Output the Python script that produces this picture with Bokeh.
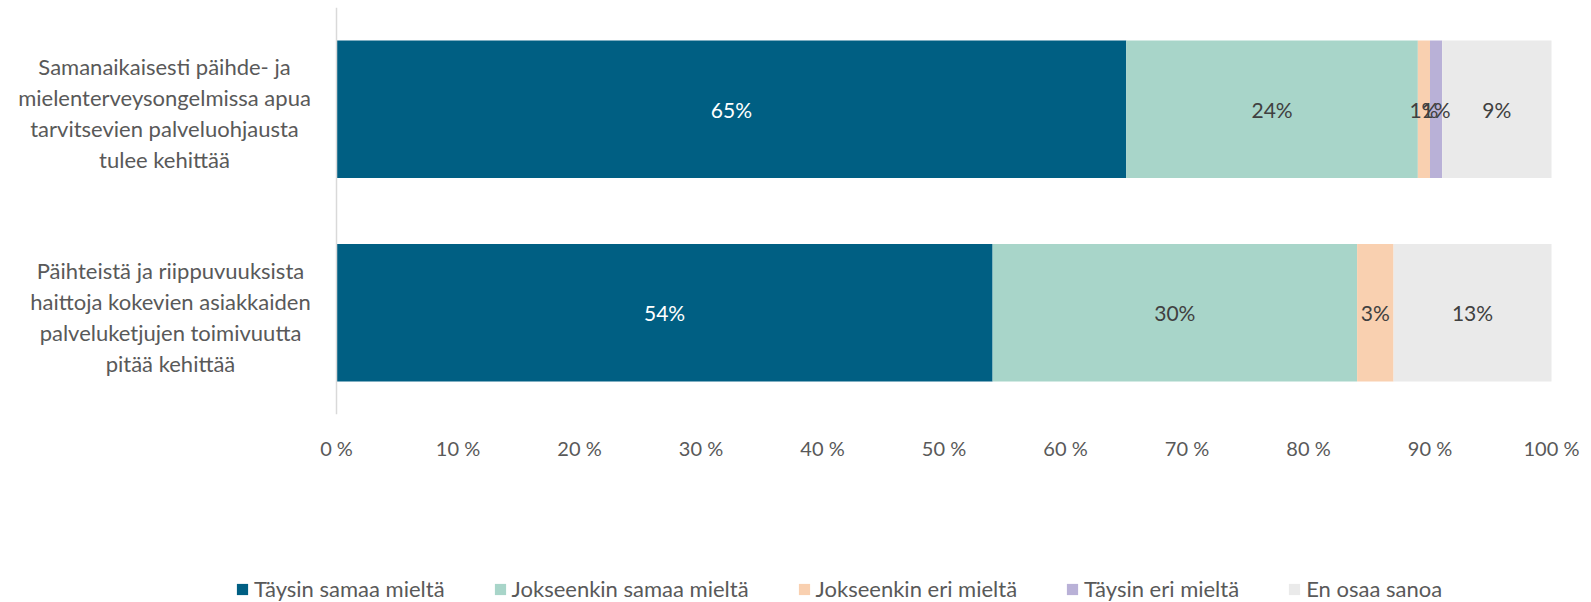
from bokeh.plotting import figure
from bokeh.layouts import column
from bokeh.models import (ColumnDataSource, FactorRange, Range1d, FixedTicker,
                          LabelSet, Legend, LegendItem, Span)
from bokeh.core.properties import value
from bokeh.embed import file_html
from bokeh.resources import INLINE

# ---------------- data ----------------
categories = [
    "Samanaikaisesti päihde- ja\nmielenterveysongelmissa apua\ntarvitsevien palveluohjausta\ntulee kehittää",
    "Päihteistä ja riippuvuuksista\nhaittoja kokevien asiakkaiden\npalveluketjujen toimivuutta\npitää kehittää",
]
series_names = ["Täysin samaa mieltä", "Jokseenkin samaa mieltä",
                "Jokseenkin eri mieltä", "Täysin eri mieltä", "En osaa sanoa"]
taysin_samaa = [65, 54]
jokseenkin_samaa = [24, 30]
jokseenkin_eri = [1, 3]
taysin_eri = [1, 0]
en_osaa = [9, 13]
tick_values = [0, 10, 20, 30, 40, 50, 60, 70, 80, 90, 100]
tick_labels = ["0 %", "10 %", "20 %", "30 %", "40 %", "50 %",
               "60 %", "70 %", "80 %", "90 %", "100 %"]

# ---------------- style / layout ----------------
colors = ["#005F83", "#A8D5C9", "#F9D0B0", "#B9B1D7", "#EAEAEA"]
label_colors = ["#FFFFFF", "#404040", "#404040", "#404040", "#404040"]
FONT = "Lato"
W = 1591
H1, H2 = 470, 132
TOP, BOTTOM = 7, 56
PLOT_X0, PLOT_X1 = 336, 1551          # pixel position of 0 % and 100 %
px_per_unit = (PLOT_X1 - PLOT_X0) / 100.0
x_start = -PLOT_X0 / px_per_unit
x_end = 100 + (W - PLOT_X1) / px_per_unit
cat_label_center_offset = [-172, -166]  # px from the 0 % line, per category
cat_line_step = 31
cat_block_shift = -4

series_values = [taysin_samaa, jokseenkin_samaa, jokseenkin_eri, taysin_eri, en_osaa]
keys = ["s0", "s1", "s2", "s3", "s4"]
data = {"cat": categories}
for k, v in zip(keys, series_values):
    data[k] = v
src = ColumnDataSource(data)

p = figure(width=W, height=H1, output_backend="svg", toolbar_location=None,
           y_range=FactorRange(factors=list(reversed(categories)), range_padding=0),
           x_range=Range1d(x_start, x_end),
           min_border_left=0, min_border_right=0,
           min_border_top=TOP, min_border_bottom=BOTTOM)
p.outline_line_color = None
p.grid.visible = False
p.border_fill_color = "white"

renderers = p.hbar_stack(keys, y="cat", height=0.675, color=colors,
                         line_width=0, source=src)

# x axis
p.xaxis.ticker = FixedTicker(ticks=tick_values)
p.xaxis.major_label_overrides = {v: t for v, t in zip(tick_values, tick_labels)}
p.xaxis.axis_line_color = None
p.xaxis.major_tick_line_color = None
p.xaxis.major_tick_out = 0
p.xaxis.minor_tick_line_color = None
p.xaxis.major_label_standoff = 21
p.xaxis.major_label_text_font = FONT
p.xaxis.major_label_text_font_size = "20px"
p.xaxis.major_label_text_color = "#595959"

# y axis: only the vertical line at 0 %
p.yaxis.visible = False
p.add_layout(Span(location=0, dimension="height", line_color="#D9D9D9",
                  line_width=1.5))

# category labels: one text per line, lines centred inside each block
cx, cy, ct, cxo, cyo = [], [], [], [], []
for ci, cat in enumerate(categories):
    lines = cat.split("\n")
    n = len(lines)
    for li, line in enumerate(lines):
        cx.append(0)
        cy.append(cat)
        ct.append(line)
        cxo.append(cat_label_center_offset[ci])
        cyo.append(((n - 1) / 2 - li) * cat_line_step + cat_block_shift)
cat_src = ColumnDataSource({"x": cx, "y": cy, "t": ct, "xo": cxo, "yo": cyo})
p.add_layout(LabelSet(x="x", y="y", text="t", source=cat_src,
                      x_offset="xo", y_offset="yo", text_align="center",
                      text_baseline="middle", text_font=value(FONT),
                      text_font_size="22px", text_color="#595959"))

# data labels
lx, ly, lt, lc = [], [], [], []
for ci, cat in enumerate(categories):
    cum = 0
    for si, vals in enumerate(series_values):
        v = vals[ci]
        if v > 0:
            lx.append(cum + v / 2)
            ly.append(cat)
            lt.append(f"{v}%")
            lc.append(label_colors[si])
        cum += v
lab_src = ColumnDataSource({"x": lx, "y": ly, "t": lt, "c": lc})
p.add_layout(LabelSet(x="x", y="y", text="t", text_color="c", source=lab_src,
                      text_align="center", text_baseline="middle",
                      text_font=value(FONT), text_font_size="21px"))

# ---------------- legend strip ----------------
p2 = figure(width=W, height=H2, output_backend="svg", toolbar_location=None,
            x_range=Range1d(x_start, x_end),
            y_range=FactorRange(factors=list(reversed(categories))),
            min_border_left=0, min_border_right=0, min_border_top=0,
            min_border_bottom=0)
p2.outline_line_color = None
p2.grid.visible = False
p2.xaxis.visible = False
p2.yaxis.visible = False
p2.border_fill_color = "white"

leg_renderers = p2.hbar_stack(keys, y="cat", height=0.675, color=colors,
                              line_width=0, source=src)
for r in leg_renderers:
    r.visible = False

legend = Legend(items=[LegendItem(label=n, renderers=[r])
                       for n, r in zip(series_names, leg_renderers)],
                location=(235, 0), orientation="horizontal",
                padding=0, margin=0, spacing=48,
                glyph_width=14, glyph_height=14, label_standoff=5,
                label_text_font=FONT, label_text_font_size="22px",
                label_text_color="#595959", label_height=20,
                border_line_alpha=0, background_fill_alpha=0)
p2.add_layout(legend, "center")

layout = column(p, p2, spacing=0)
open("out.html", "w").write(file_html(layout, INLINE))
